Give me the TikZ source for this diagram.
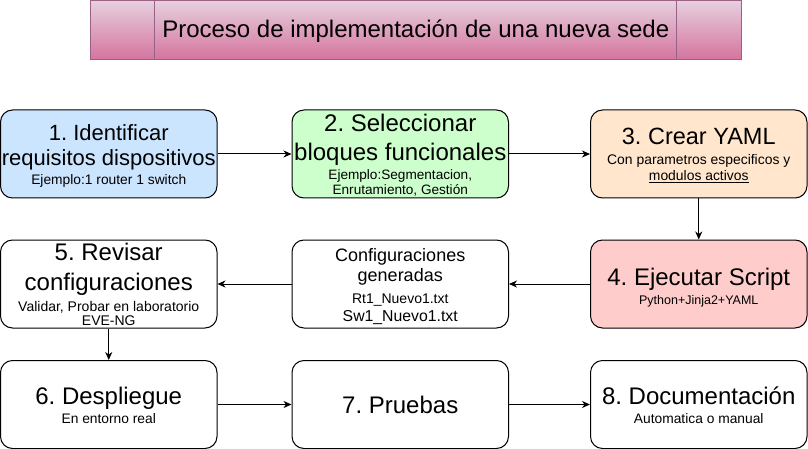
\documentclass[tikz,border=0pt]{standalone}
\usepackage{fontspec}
\setmainfont{Liberation Sans}
\usetikzlibrary{arrows.meta}
\frenchspacing
\definecolor{fblue}{HTML}{CCE5FF}
\definecolor{fgreen}{HTML}{CCFFCC}
\definecolor{forange}{HTML}{FFE6CC}
\definecolor{fred}{HTML}{FFCCCC}
\definecolor{ttop}{HTML}{E6D0DE}
\definecolor{tbot}{HTML}{D5739D}
\definecolor{tline}{HTML}{996185}
% one text line: size, height above baseline, depth below baseline, text
\newcommand\txl[4]{\smash{\fontsize{#1}{0pt}\selectfont\frenchspacing #4}\rule[-#3pt]{0pt}{\dimexpr #2pt + #3pt\relax}}
\newcommand\zeroskips{\baselineskip=0pt\lineskip=0pt\lineskiplimit=0pt\frenchspacing}
\begin{document}
\begin{tikzpicture}[x=1pt,y=-1pt,
  stepbox/.style={draw=black, line width=1pt, rounded corners=12pt,
    minimum width=216.5pt, minimum height=88pt, inner sep=0pt,
    align=center, font=\zeroskips, text=black},
  arr/.style={draw=black, line width=1pt, -{Stealth[length=8pt,width=7pt,inset=2.5pt]}},
  titlebox/.style={draw=tline, line width=1pt, top color=ttop, bottom color=tbot,
    minimum width=650.5pt, minimum height=59.5pt, inner sep=0pt,
    align=center, font=\zeroskips},
  titleline/.style={draw=tline, line width=1pt}]
\useasboundingbox (0,0) rectangle (808,449);

% title
\node[titlebox] (title) at (415.75,30.25)
  {\txl{24}{32.75}{17.25}{Proceso de implementación de una nueva sede}};
\draw[titleline] ([xshift=64.5pt]title.north west) -- ([xshift=64.5pt]title.south west);
\draw[titleline] ([xshift=-65pt]title.north east) -- ([xshift=-65pt]title.south east);

% row 1
\node[stepbox, fill=fblue] (s1) at (108.75,154)
  {\txl{22}{29}{0}{1. Identificar}\\
   \txl{22}{25}{0}{requisitos dispositivos}\\
   \txl{13.8}{19}{11}{Ejemplo:1 router 1 switch}};
\node[stepbox, fill=fgreen] (s2) at (400.25,154)
  {\txl{24}{20}{0}{2. Seleccionar}\\
   \txl{24}{28}{0}{bloques funcionales}\\
   \txl{13.6}{20}{0}{Ejemplo:Segmentacion,}\\
   \txl{13.6}{15}{1}{Enrutamiento, Gestión}};
\node[stepbox, fill=forange] (s3) at (698.75,154)
  {\txl{23.5}{33}{0}{3. Crear YAML}\\
   \txl{13.9}{20}{0}{Con parametros especificos y}\\
   \txl{13.9}{16}{15}{\underline{modulos activos}}};

% row 2
\node[stepbox, fill=fred] (s4) at (698.75,284)
  {\txl{24}{43}{0}{4. Ejecutar Script}\\
   \txl{12.5}{19}{22}{Python+Jinja2+YAML}};
\node[stepbox, fill=white] (cfg) at (400.25,284)
  {\txl{18}{19}{0}{Configuraciones}\\
   \txl{18}{20}{0}{generadas}\\
   \txl{14}{22}{0}{Rt1\_Nuevo1.txt}\\
   \txl{15.8}{18}{5}{Sw1\_Nuevo1.txt}};
\node[stepbox, fill=white] (s5) at (108.75,284)
  {\txl{24}{18}{0}{5. Revisar}\\
   \txl{24}{30}{0}{configuraciones}\\
   \txl{14}{21}{0}{Validar, Probar en laboratorio}\\
   \txl{14}{14}{1}{EVE-NG}};

% row 3
\node[stepbox, fill=white] (s6) at (108.75,404.5)
  {\txl{24}{41.5}{0}{6. Despliegue}\\
   \txl{13.8}{19}{23.5}{En entorno real}};
\node[stepbox, fill=white] (s7) at (400.25,404.5)
  {\txl{24}{51}{33}{7. Pruebas}};
\node[stepbox, fill=white] (s8) at (698.75,404.5)
  {\txl{24}{41.5}{0}{8. Documentación}\\
   \txl{13.8}{19}{23.5}{Automatica o manual}};

% connectors
\draw[arr] (s1) -- (s2);
\draw[arr] (s2) -- (s3);
\draw[arr] (s3) -- (s4);
\draw[arr] (s4) -- (cfg);
\draw[arr] (cfg) -- (s5);
\draw[arr] (s5) -- (s6);
\draw[arr] (s6) -- (s7);
\draw[arr] (s7) -- (s8);
\end{tikzpicture}
\end{document}
